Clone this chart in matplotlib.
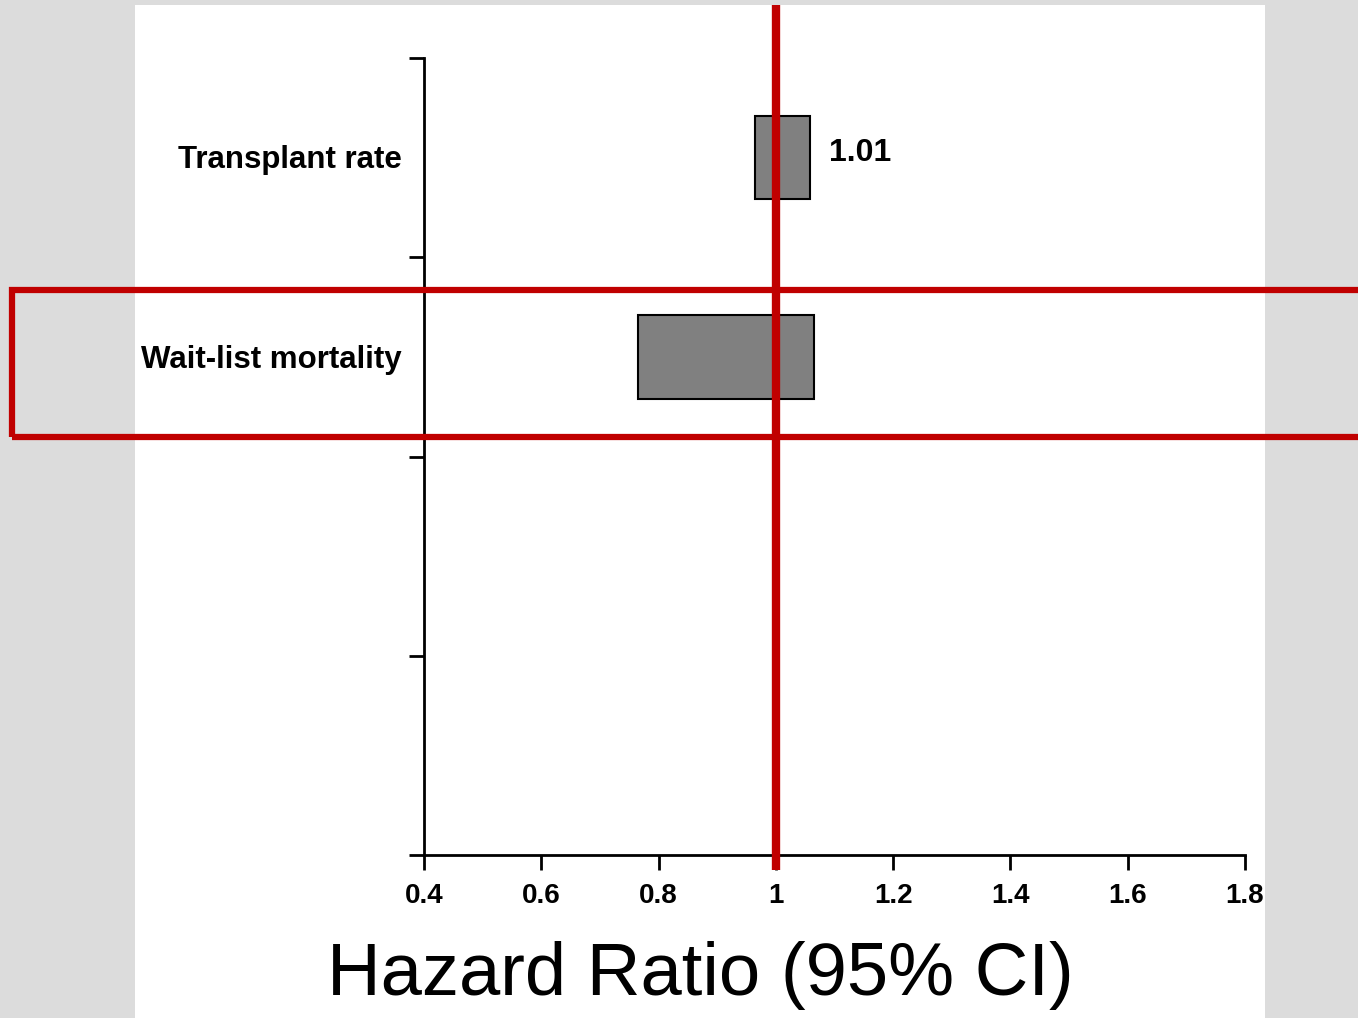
"""Forest-style bar chart of hazard ratios (95% CI)."""

from matplotlib import pyplot
from matplotlib import patches, transforms
from matplotlib.lines import Line2D

# Data.
categories = ['Transplant rate', 'Wait-list mortality']
ci_low = [0.964, 0.765]
ci_high = [1.058, 1.065]
value_labels = ['1.01', '']
row_pos = [3.5, 2.5]
xticks = [0.4, 0.6, 0.8, 1.0, 1.2, 1.4, 1.6, 1.8]
xtick_labels = ['0.4', '0.6', '0.8', '1', '1.2', '1.4', '1.6', '1.8']
ref_value = 1.0

W, H = 1358, 1018
red = '#c00000'

pyplot.rc('font', family='Liberation Sans')

fig = pyplot.figure(figsize=(W / 100, H / 100), dpi=100)
fig.patch.set_facecolor('#dcdcdc')

# White slide panel (behind the axes).
fig.patches.append(patches.Rectangle((135 / W, 0), 1130 / W, 1013 / H,
                                     transform=fig.transFigure,
                                     facecolor='white', edgecolor='none',
                                     zorder=-1))

ax = fig.add_axes([424 / W, 163 / H, 821 / W, 797 / H])
ax.set_facecolor('none')
ax.set_xlim(0.4, 1.8)
ax.set_ylim(0, 4)

# Bars spanning the confidence interval.
ax.barh(row_pos, [h - l for l, h in zip(ci_low, ci_high)], left=ci_low,
        height=0.42, color='#808080', edgecolor='black', linewidth=1.5,
        zorder=2)

for y, hi, lab in zip(row_pos, ci_high, value_labels):
    if lab:
        ax.annotate(lab, (hi, y), xytext=(14, 3), textcoords='offset points',
                    ha='left', va='center', fontsize=23, fontweight='bold')

for y, name in zip(row_pos, categories):
    ax.annotate(name, (0.4, y), xytext=(-16, -2), textcoords='offset points',
                ha='right', va='center', fontsize=22.5, fontweight='bold')

ax.spines['top'].set_visible(False)
ax.spines['right'].set_visible(False)
ax.spines['left'].set_linewidth(2)
ax.spines['bottom'].set_linewidth(2)
ax.set_yticks([0, 1, 2, 3, 4])
ax.set_yticklabels([])
ax.set_xticks(xticks)
ax.set_xticklabels(xtick_labels, fontsize=20, fontweight='bold')
ax.tick_params(length=11, width=2, direction='out', pad=9)

# Red reference line at HR = 1, from the top of the slide to below the axis.
trans = transforms.blended_transform_factory(ax.transData, fig.transFigure)
fig.lines.append(Line2D([ref_value, ref_value], [(H - 870) / H, 1013 / H],
                        transform=trans, color=red, linewidth=6,
                        solid_capstyle='butt', zorder=5))

# Red highlight box around the wait-list row.
fig.patches.append(patches.Rectangle((12 / W, (H - 437) / H), 1400 / W,
                                     147 / H, transform=fig.transFigure,
                                     facecolor='none', edgecolor=red,
                                     linewidth=4.5, zorder=5))

fig.text(700 / W, 23 / H, 'Hazard Ratio (95% CI)', ha='center',
         va='baseline', fontsize=53.5)

fig.savefig('out.png', dpi=100)
